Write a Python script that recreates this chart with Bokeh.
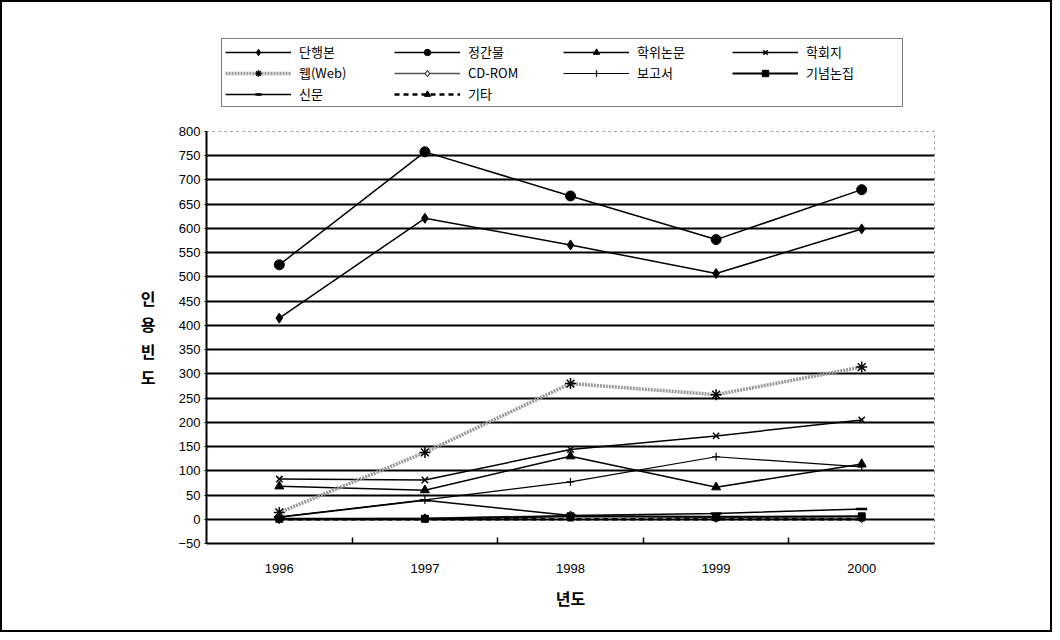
from bokeh.plotting import figure
from bokeh.layouts import column
from bokeh.models import Range1d, FixedTicker, Legend, LegendItem
from bokeh.embed import file_html
from bokeh.resources import INLINE

years = [1996, 1997, 1998, 1999, 2000]
series_names = ["단행본", "정간물", "학위논문", "학회지", "웹(Web)", "CD-ROM", "보고서", "기념논집", "신문", "기타"]

dan = [415, 621, 566, 507, 599]
jeong = [525, 758, 667, 577, 680]
hakwi = [68, 60, 130, 66, 114]
hakhoe = [83, 81, 144, 172, 205]
web = [14, 138, 280, 257, 314]
cdrom = [0, 2, 8, 3, 2]
bogo = [5, 40, 77, 129, 108]
ginyeom = [1, 1, 6, 5, 6]
sinmun = [4, 39, 8, 12, 21]
gita = [0, 0, 0, 0, 0]

y_ticks = list(range(-50, 801, 50))
grid_ticks = list(range(0, 800, 50))
minor_x = [1996.5, 1997.5, 1998.5, 1999.5]
y_title = "인용빈도"

FONT = "Noto Sans CJK KR"
NUMFONT = "Liberation Sans"
BORDER = "2px solid black"

# legend strip above the chart (its own frame; sample glyphs fall outside its range)
lg = figure(width=1052, height=123, output_backend="svg", toolbar_location=None,
            x_range=Range1d(0, 1), y_range=Range1d(0, 1),
            x_axis_location=None, y_axis_location=None,
            min_border_left=204, min_border_right=120, min_border_top=0, min_border_bottom=0)
lg.grid.visible = False
lg.outline_line_color = None
lg.styles = {"border-top": BORDER, "border-left": BORDER, "border-right": BORDER}

p = figure(width=1052, height=509, output_backend="svg", toolbar_location=None,
           x_range=Range1d(1995.5, 2000.5), y_range=Range1d(-50, 800),
           min_border_left=204, min_border_right=120, min_border_top=8, min_border_bottom=89)
p.styles = {"border-bottom": BORDER, "border-left": BORDER, "border-right": BORDER}

p.outline_line_color = "#808080"
p.outline_line_dash = "dotted"
p.outline_line_width = 1

p.xgrid.visible = False
p.ygrid.ticker = FixedTicker(ticks=grid_ticks)
p.ygrid.grid_line_color = "black"
p.ygrid.grid_line_width = 2

p.xaxis.ticker = FixedTicker(ticks=years, minor_ticks=minor_x)
p.xaxis.major_tick_in = 0
p.xaxis.major_tick_out = 0
p.xaxis.minor_tick_in = 6
p.xaxis.minor_tick_out = 0
p.xaxis.minor_tick_line_color = "black"
p.xaxis.minor_tick_line_width = 1.5
p.xaxis.axis_line_width = 2
p.xaxis.axis_line_color = "black"
p.xaxis.major_label_standoff = 20
p.xaxis.major_label_text_font = NUMFONT
p.xaxis.major_label_text_font_size = "13px"
p.xaxis.major_label_text_color = "black"
p.xaxis.axis_label = "년도"
p.xaxis.axis_label_text_font = FONT
p.xaxis.axis_label_text_font_style = "bold"
p.xaxis.axis_label_text_font_size = "16px"
p.xaxis.axis_label_text_color = "black"
p.xaxis.axis_label_standoff = 10

p.yaxis.ticker = FixedTicker(ticks=y_ticks)
p.yaxis.major_tick_in = 0
p.yaxis.major_tick_out = 2
p.yaxis.minor_tick_line_color = None
p.yaxis.axis_line_width = 2
p.yaxis.axis_line_color = "black"
p.yaxis.major_label_standoff = 4
p.yaxis.major_label_text_font = NUMFONT
p.yaxis.major_label_text_font_size = "13px"
p.yaxis.major_label_text_color = "black"
p.yaxis.axis_label_text_font = FONT
p.yaxis.axis_label_text_font_style = "bold"
p.yaxis.axis_label_text_font_size = "16px"
p.yaxis.axis_label_text_color = "black"
try:
    p.yaxis[0].axis_label_orientation = "horizontal"
    p.yaxis.axis_label = "\n".join(y_title)
    p.yaxis.axis_label_text_line_height = 1.1
    p.yaxis.axis_label_standoff = 20
except Exception:
    p.yaxis.axis_label = y_title

styles = [
    (dan, dict(line_color="black", line_width=1.5), dict(marker="diamond", size=10, fill_color="black", line_color="black")),
    (jeong, dict(line_color="black", line_width=1.5), dict(marker="circle", size=10, fill_color="black", line_color="black")),
    (hakwi, dict(line_color="black", line_width=1.5), dict(marker="triangle", size=9, fill_color="black", line_color="black")),
    (hakhoe, dict(line_color="black", line_width=1.5), dict(marker="x", size=9, line_color="black", line_width=1.5)),
    (web, dict(line_color="#9a9a9a", line_width=3.5, line_dash="2 1"), dict(marker="asterisk", size=11, line_color="black", line_width=1.5)),
    (cdrom, dict(line_color="#555555", line_width=1.5), dict(marker="diamond", size=9, fill_color="white", line_color="black")),
    (bogo, dict(line_color="black", line_width=1.2), dict(marker="cross", size=8, line_color="black", line_width=1.2)),
    (ginyeom, dict(line_color="black", line_width=2), dict(marker="square", size=7, fill_color="black", line_color="black")),
    (sinmun, dict(line_color="black", line_width=1.5), dict(marker="dash", size=11, line_color="black", line_width=2.5)),
    (gita, dict(line_color="black", line_width=2.5, line_dash="5 4"), dict(marker="triangle", size=6, fill_color="black", line_color="black")),
]

items = []
for name, (vals, lkw, mkw) in zip(series_names, styles):
    p.line(years, vals, **lkw)
    p.scatter(years, vals, **mkw)
    # same series in the legend strip: outside its 0..1 range, so only the legend samples show
    lr = lg.line(years, vals, **lkw)
    sr = lg.scatter(years, vals, **mkw)
    items.append(LegendItem(label=name, renderers=[lr, sr]))

legend = Legend(items=items, orientation="horizontal", ncols=4, location=(15, 18),
                glyph_width=66, glyph_height=16, label_height=16, label_width=93,
                label_standoff=8, spacing=2, padding=3, margin=0,
                border_line_color="black", border_line_width=1.5,
                background_fill_color="white", background_fill_alpha=1,
                label_text_font=FONT, label_text_font_size="13px", label_text_color="black")
lg.add_layout(legend, "center")

layout = column(lg, p, spacing=0)

open("out.html", "w").write(file_html(layout, INLINE))
